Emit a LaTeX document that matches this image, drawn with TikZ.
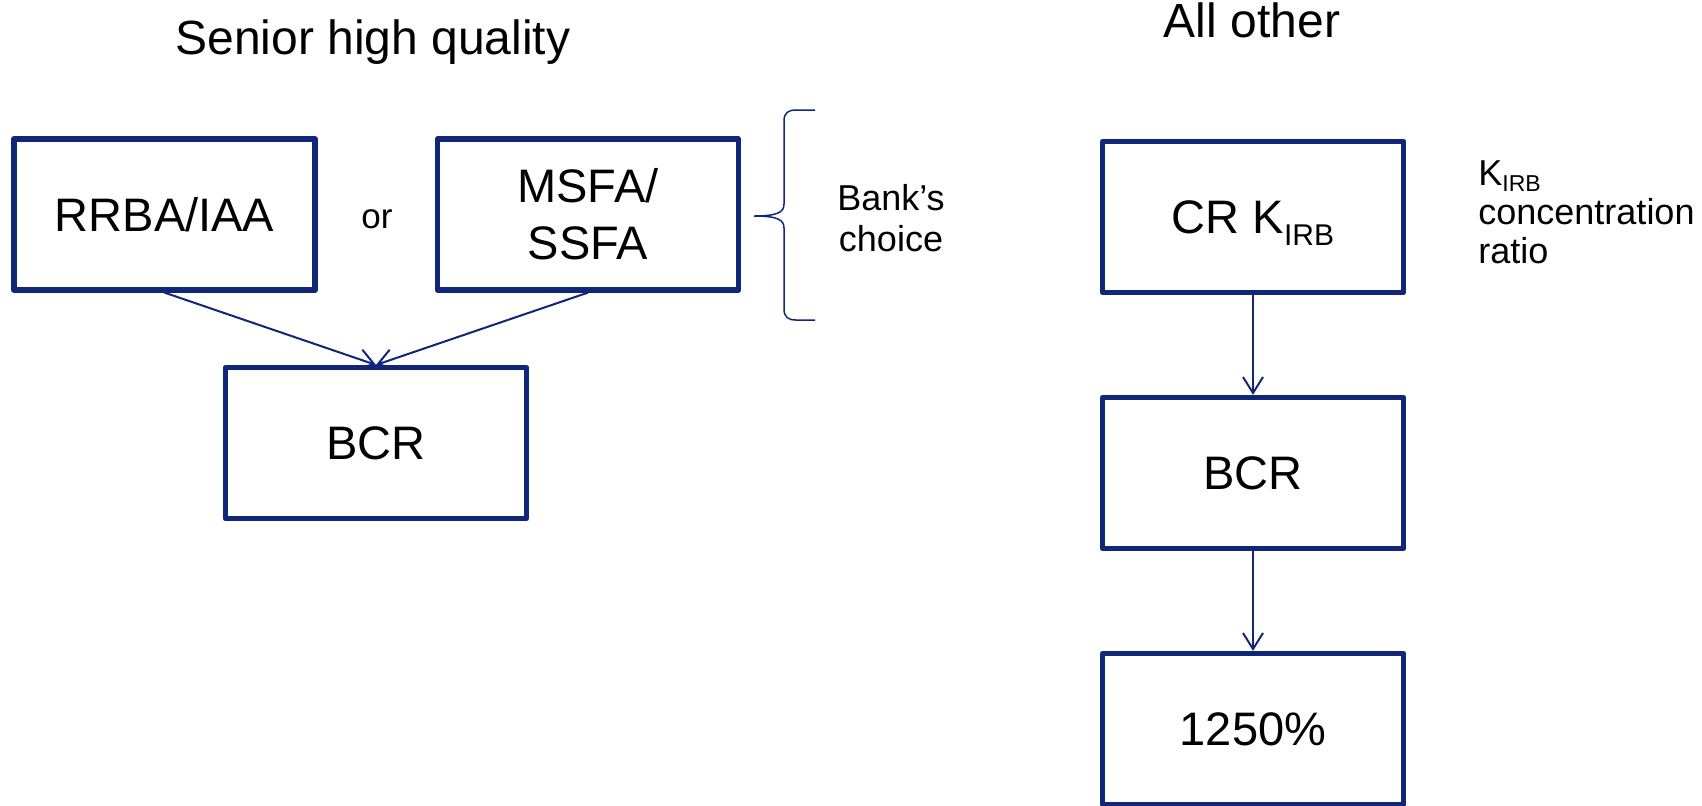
\documentclass[tikz,border=0pt]{standalone}
\usepackage{fontspec}
\setmainfont{Liberation Sans}
\usetikzlibrary{arrows.meta}
\definecolor{navy}{RGB}{16,38,120}
\begin{document}
\begin{tikzpicture}[x=0.5pt,y=-0.5pt,
  box/.style={draw=navy, line width=2.6pt, line join=round, minimum width=150.5pt,
    minimum height=75.5pt, inner sep=0pt, align=center,
    font=\fontsize{23.5}{28.5}\selectfont},
  conn/.style={draw=navy, line width=1pt, -{Straight Barb[length=8pt,width=10pt]}},
  title/.style={font=\fontsize{24}{28}\selectfont, anchor=base, inner sep=0pt},
  note/.style={font=\fontsize{18}{20.5}\selectfont, inner sep=0pt},
]
\useasboundingbox (0,0) rectangle (1702,805);

% titles
\node[title] (t1) at (373,54) {Senior high quality};
\node[title] (t2) at (1252,37) {All other};

% left column
\node[box] (rrba) at (164.5,214.5) {RRBA/IAA};
\node[box] (msfa) at (588,214.5) {MSFA/\\SSFA};
\node[box] (bcrl) at (376,443) {BCR};
\node[font=\fontsize{17.5}{20}\selectfont, anchor=base, inner sep=0pt] (or) at (377,228) {or};

% brace and note
\draw[navy, line width=0.75pt] (815,110) -- (796,110)
  .. controls (788,110) and (784,113) .. (784,121) -- (784,204)
  .. controls (784,212) and (778,216) .. (754,216)
  .. controls (778,216) and (784,220) .. (784,228) -- (784,309)
  .. controls (784,317) and (788,320) .. (796,320) -- (815,320);
\node[note, align=center] (choice) at (891,218) {Bank’s\\choice};

% right column
\node[box, text depth=0pt] (cr) at (1253,217) {CR K\raisebox{-6pt}{\fontsize{15}{15}\selectfont IRB}};
\node[box] (bcrr) at (1253,473) {BCR};
\node[box] (pct) at (1253,729) {1250\%};
\node[note, align=left, anchor=west, font=\fontsize{18}{19.5}\selectfont] (kirb) at (1478,212)
  {K\raisebox{-3pt}{\fontsize{11.5}{11.5}\selectfont IRB}\\concentration\\ratio};

% connectors
\draw[conn] (rrba.south) -- (bcrl.north);
\draw[conn] (msfa.south) -- (bcrl.north);
\draw[conn] (cr) -- (bcrr);
\draw[conn] (bcrr) -- (pct);
\end{tikzpicture}
\end{document}
